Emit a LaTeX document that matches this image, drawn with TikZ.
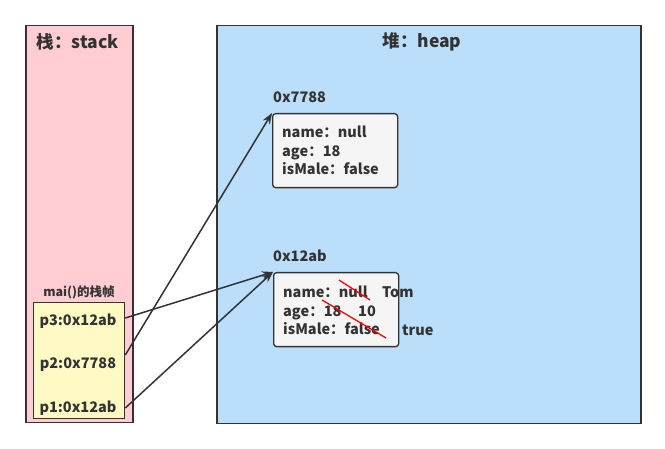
\documentclass[tikz,border=0pt]{standalone}
\usepackage{fontspec}
\setmainfont{Noto Sans CJK SC}
\usetikzlibrary{arrows.meta}
\definecolor{stk}{HTML}{FFCDD2}
\definecolor{hp}{HTML}{BBDEFB}
\definecolor{frm}{HTML}{FFF9C4}
\definecolor{obj}{HTML}{F5F5F5}
\definecolor{ln}{HTML}{333333}
\tikzset{
  area/.style={draw=ln, line width=1.5pt, inner sep=0pt, anchor=north west},
  objbox/.style={draw=ln, line width=1.3pt, fill=obj, rounded corners=3pt, inner sep=0pt, anchor=north west, minimum width=125pt, minimum height=74pt},
  ttl/.style={text=ln, font=\bfseries\fontsize{17.5}{20}\selectfont},
  txt/.style={text=ln, font=\bfseries\fontsize{14.5}{17}\selectfont, inner sep=0pt, anchor=base west},
  addr/.style={text=ln, font=\bfseries\fontsize{14.5}{17}\selectfont, inner sep=0pt},
  ptr/.style={draw=ln, line width=1.5pt, -{Stealth[length=11pt,width=8pt]}},
  strike/.style={draw=red, line width=1.3pt}
}
\begin{document}
\begin{tikzpicture}[x=1pt,y=-1pt]
\useasboundingbox (0,0) rectangle (665,449);
% stack
\node[area, fill=stk, minimum width=107pt, minimum height=397pt] (stack) at (25,25) {};
\node[ttl] (stitle) at (78,42) {栈：stack};
% heap
\node[area, fill=hp, minimum width=424pt, minimum height=398pt] (heap) at (216,25) {};
\node[ttl] (htitle) at (422,42) {堆：heap};
% frame
\node[text=ln, font=\bfseries\fontsize{12.5}{14}\selectfont] (flabel) at (79,292) {mai()的栈帧};
\node[area, fill=frm, line width=1.3pt, minimum width=91pt, minimum height=116pt] (frame) at (33,302) {};
\node[addr] (p3) at (78,321) {p3:0x12ab};
\node[addr] (p2) at (78,365) {p2:0x7788};
\node[addr] (p1) at (78,408) {p1:0x12ab};
% objects
\node[addr, anchor=west] (a1) at (273,97) {0x7788};
\node[objbox] (o1) at (272,113) {};
\node[txt] (o1a) at (282,138) {name：null};
\node[txt] (o1b) at (282,156.5) {age：18};
\node[txt] (o1c) at (282,175) {isMale：false};
\node[addr, anchor=west] (a2) at (273,256) {0x12ab};
\node[objbox] (o2) at (273,272) {};
\node[txt] (o2a) at (283,298) {name：null};
\node[txt] (o2d) at (382,298) {Tom};
\node[txt] (o2b) at (283,316.5) {age：18};
\node[txt] (o2e) at (358,316.5) {10};
\node[txt] (o2c) at (283,335) {isMale：false};
\node[txt] (o2f) at (402,336) {true};
\draw[strike] (339,280) -- (370,300);
\draw[strike] (322,300) -- (386,338);
% pointers
\draw[ptr] (p3.east -| frame.east) ++(0,-3) -- (o2.north west);
\draw[ptr] (p2.east -| frame.east) ++(0,-10) -- (o1.north west);
\draw[ptr] (p1.east -| frame.east) -- (o2.north west);
\end{tikzpicture}
\end{document}
